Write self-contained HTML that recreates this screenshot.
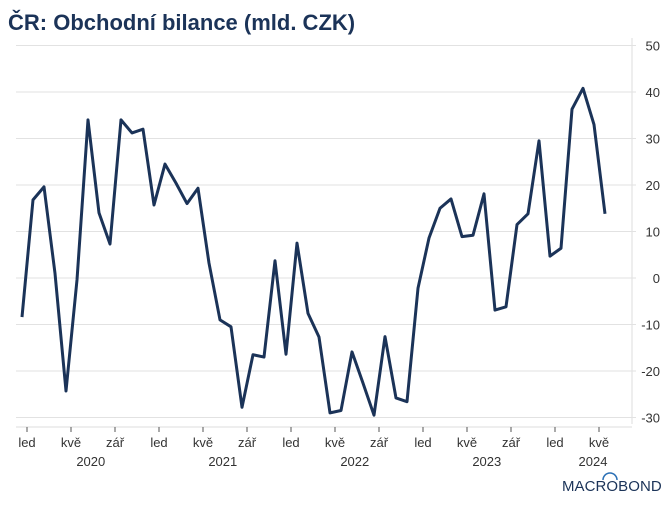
<!DOCTYPE html>
<html><head><meta charset="utf-8"><style>
body{margin:0;background:#fff;font-family:"Liberation Sans",sans-serif}
svg text{font-family:"Liberation Sans",sans-serif}
</style></head><body>
<svg width="670" height="502">
<text x="8" y="30" font-size="22" font-weight="bold" fill="#1b3358">ČR: Obchodní bilance (mld. CZK)</text>
<line x1="632" x2="632" y1="38" y2="424" stroke="#ddd"/>
<g id="grid"></g><g id="xaxis"></g>
<path id="line" fill="none" stroke="#1b3358" stroke-width="3" stroke-linejoin="round"/>
<g>
<text x="562" y="491" font-size="15" fill="#1b3358" letter-spacing="0.3" textLength="100">MACROBOND</text>
<path d="M603 480 A7 7 0 0 1 617 480" fill="none" stroke="#2a6fb5" stroke-width="1.5"/>
</g>
</svg>
<script>
const values=[-8.4,16.8,19.6,1,-24.3,-0.4,34,14,7.3,34,31.2,32,15.7,24.5,20.4,16,19.3,3.2,-9,-10.5,-27.8,-16.5,-17,3.7,-16.4,7.5,-7.6,-12.7,-29,-28.5,-15.9,-22.6,-29.5,-12.6,-25.8,-26.6,-2.2,8.6,15,17,8.9,9.2,18.1,-6.9,-6.2,11.5,13.8,29.5,4.7,6.4,36.3,40.8,33,13.8];
const yTicks=[-30,-20,-10,0,10,20,30,40,50];
const monthLabels=["led","kvě","zář"];
const years=["2020","2021","2022","2023","2024"];
const NS="http://www.w3.org/2000/svg";
const y=v=>278-v*4.65;
const x=i=>22+i*11;
const tx=m=>27+m*11;
function el(t,a,p){const e=document.createElementNS(NS,t);for(const k in a)e.setAttribute(k,a[k]);p.appendChild(e);return e;}
const g=document.getElementById('grid');
yTicks.forEach(v=>{
 const l=el('line',{x1:16,x2:636,y1:y(v),y2:y(v),stroke:'#e2e2e2','stroke-width':1},g);
 
 
 const t=el('text',{x:660,y:y(v)+5,'font-size':13,fill:'#333','text-anchor':'end'},g);
 t.textContent=v;
 
 
});
const xa=document.getElementById('xaxis');
const ax=el('line',{x1:16,x2:632,y1:427,y2:427,stroke:'#ddd','stroke-width':1},xa);


for(let m=0;m<values.length;m+=4){
 const tk=el('line',{x1:tx(m),x2:tx(m),y1:427,y2:432,stroke:'#555'},xa);
 
 
 const t=el('text',{x:tx(m),y:447,'font-size':13,fill:'#333','text-anchor':'middle'},xa);
 t.textContent=monthLabels[(m/4)%3];
 
 
}
years.forEach((yr,k)=>{
 const t=el('text',{x:k<4?tx(k*12+5.8):tx(52)-6,y:466,'font-size':13,fill:'#333','text-anchor':'middle'},xa);
 t.textContent=yr;
 
 
});
document.getElementById('line').setAttribute('d',values.map((v,i)=>(i?'L':'M')+x(i)+','+y(v)).join(''));
</script>
</body></html>
